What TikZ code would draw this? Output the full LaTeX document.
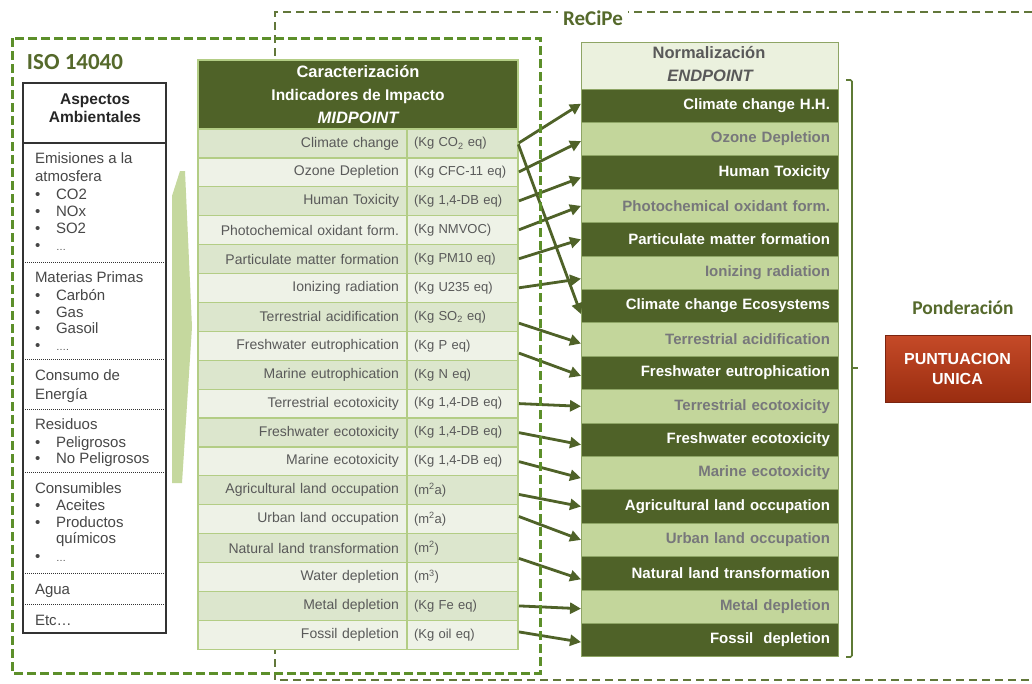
\documentclass[tikz,border=0pt]{standalone}
\usepackage{fontspec}
\setmainfont{Liberation Sans}
\newfontfamily\calib{Carlito}
\usetikzlibrary{arrows.meta}
\definecolor{cOlive}{HTML}{4F6228}
\definecolor{cMidA}{HTML}{DCE6CD}
\definecolor{cMidB}{HTML}{EEF2E7}
\definecolor{cMidLine}{HTML}{B3CD85}
\definecolor{cMidTxt}{HTML}{595959}
\definecolor{cEndLight}{HTML}{C3D69B}
\definecolor{cEndHead}{HTML}{EBF1DE}
\definecolor{cEndLine}{HTML}{8EA565}
\definecolor{cEndTxt}{HTML}{77777B}
\definecolor{cIso}{HTML}{5C8F2A}
\definecolor{cRecipe}{HTML}{62773A}
\definecolor{cTitle}{HTML}{55692B}
\definecolor{cLeftTxt}{HTML}{474747}
\definecolor{cBigArrow}{HTML}{C5D89E}
\definecolor{cBracket}{HTML}{5E7A35}
\definecolor{cRedTop}{HTML}{C54A28}
\definecolor{cRedBot}{HTML}{9A2D10}
\definecolor{cRedLine}{HTML}{7A2410}

\newcommand\mrow[3]{%
  \pgfmathsetmacro\ty{129+(#1-1)*28.9}%
  \pgfmathtruncatemacro\isodd{mod(#1,2)}%
  \ifnum\isodd=1 \def\rf{cMidA}\else\def\rf{cMidB}\fi
  \node[midname, fill=\rf, anchor=north west] (m#1) at (198,\ty) {#2};
  \node[midunit, fill=\rf, anchor=north west] (u#1) at (407,\ty) {#3};
}
\newcommand\erow[3]{%
  \pgfmathsetmacro\ty{89+(#1-1)*33.4}%
  \node[#3, anchor=north west] (e#1) at (581,\ty) {#2};
}
\newcommand\ltx[3]{\node[lefttxt, anchor=base west] (#1) at (35,#2+5) {#3};}
\newcommand\lbu[3]{\node[lefttxt, anchor=base west] (#1b) at (35,#2+5) {•};
  \node[lefttxt, anchor=base west] (#1) at (56,#2+5) {#3};}

\begin{document}
\begin{tikzpicture}[x=1pt,y=-1pt,
  every node/.style={inner sep=0pt, outer sep=0pt},
  midcell/.style={draw=cMidLine, line width=1.2pt, minimum height=28.9pt, text=cMidTxt},
  midname/.style={midcell, text width=193pt, align=right, inner xsep=8pt, font=\fontsize{14}{16}\selectfont},
  midunit/.style={midcell, text width=97pt, align=left, inner xsep=7pt, font=\fontsize{13}{15}\selectfont},
  endcell/.style={draw=cEndLine, line width=0.8pt, minimum height=33.4pt, text width=241pt, align=right, inner xsep=8pt, font=\bfseries\fontsize{15}{17}\selectfont},
  enddark/.style={endcell, fill=cOlive, text=white},
  endlight/.style={endcell, fill=cEndLight, text=cEndTxt},
  lefttxt/.style={text=cLeftTxt, font=\fontsize{15}{17}\selectfont},
  arr/.style={draw=cOlive, line width=2.8pt, -{Triangle[length=11pt,width=11pt]}, shorten <=1pt},
  isobox/.style={draw=cIso, line width=3pt, dash pattern=on 9pt off 4pt},
  recbox/.style={draw=cRecipe, line width=2.6pt, dash pattern=on 8pt off 5pt},
  sep/.style={draw=black!80, line width=1pt, dash pattern=on 1pt off 1pt}
]
\useasboundingbox (0,0) rectangle (1032,683);
\fill[white] (0,0) rectangle (1032,683);

% ReCiPe dashed frame
\draw[recbox] (1045,12) -- (275,12) -- (275,680) -- (1045,680);
\node[fill=white, inner xsep=5pt, inner ysep=2pt, text=cTitle, font=\calib\bfseries\fontsize{21}{23}\selectfont] (recipe) at (593,18) {ReCiPe};

% Left table
\node[draw=black!80, line width=1.2pt, minimum width=143pt, minimum height=550pt, anchor=north west] (asp) at (23,83) {};
\draw[draw=black!80, line width=1.2pt] (23,143) -- (166,143);
\node[align=center, text=black!85, font=\bfseries\fontsize{15.5}{18}\selectfont] (asph) at (95,108) {Aspectos\\Ambientales};
\foreach \yy in {262,359,409,472,573,604} \draw[sep] (23,\yy) -- (166,\yy);
\ltx{l1}{158}{Emisiones a la}
\ltx{l2}{176}{atmosfera}
\lbu{l3}{194}{CO2}
\lbu{l4}{211}{NOx}
\lbu{l5}{228}{SO2}
\lbu{l6}{245}{{\fontsize{10}{12}\selectfont …}}
\ltx{l7}{277}{Materias Primas}
\lbu{l8}{295}{Carbón}
\lbu{l9}{312}{Gas}
\lbu{l10}{328}{Gasoil}
\lbu{l11}{345}{{\fontsize{10}{12}\selectfont ….}}
\ltx{l12}{375}{Consumo de}
\ltx{l13}{394}{Energía}
\ltx{l14}{424}{Residuos}
\lbu{l15}{442}{Peligrosos}
\lbu{l16}{458}{No Peligrosos}
\ltx{l17}{488}{Consumibles}
\lbu{l18}{505}{Aceites}
\lbu{l19}{522}{Productos}
\ltx{l20x}{538}{\hspace*{21pt}químicos}
\lbu{l21}{556}{{\fontsize{10}{12}\selectfont …}}
\ltx{l22}{589}{Agua}
\ltx{l23}{620}{Etc…}

% big light arrow
\fill[cBigArrow] (180,171) -- (185,171) -- (192,327) -- (182,483) -- (172,483) -- (172,196) -- cycle;

% Midpoint table
\node[draw=cMidLine, line width=1.2pt, fill=cOlive, minimum width=320pt, minimum height=69pt, anchor=north west] (mh) at (198,60) {};
\node[text=white, font=\bfseries\fontsize{16.5}{18}\selectfont] (mh1) at (358,72) {Caracterización};
\node[text=white, font=\bfseries\fontsize{15.5}{18}\selectfont] (mh2) at (358,96) {Indicadores de Impacto};
\node[text=white, font=\bfseries\itshape\fontsize{16.5}{18}\selectfont] (mh3) at (358,118) {MIDPOINT};
\mrow{1}{Climate change}{(Kg CO\textsubscript{2} eq)}
\mrow{2}{Ozone Depletion}{(Kg CFC-11 eq)}
\mrow{3}{Human Toxicity}{(Kg 1,4-DB eq)}
\mrow{4}{Photochemical oxidant form.}{(Kg NMVOC)}
\mrow{5}{Particulate matter formation}{(Kg PM10 eq)}
\mrow{6}{Ionizing radiation}{(Kg U235 eq)}
\mrow{7}{Terrestrial acidification}{(Kg SO\textsubscript{2} eq)}
\mrow{8}{Freshwater eutrophication}{(Kg P eq)}
\mrow{9}{Marine eutrophication}{(Kg N eq)}
\mrow{10}{Terrestrial ecotoxicity}{(Kg 1,4-DB eq)}
\mrow{11}{Freshwater ecotoxicity}{(Kg 1,4-DB eq)}
\mrow{12}{Marine ecotoxicity}{(Kg 1,4-DB eq)}
\mrow{13}{Agricultural land occupation}{(m\textsuperscript{2}a)}
\mrow{14}{Urban land occupation}{(m\textsuperscript{2}a)}
\mrow{15}{Natural land transformation}{(m\textsuperscript{2})}
\mrow{16}{Water depletion}{(m\textsuperscript{3})}
\mrow{17}{Metal depletion}{(Kg Fe eq)}
\mrow{18}{Fossil depletion}{(Kg oil eq)}

% Endpoint table
\node[draw=cEndLine, line width=1pt, fill=cEndHead, minimum width=257pt, minimum height=47pt, anchor=north west] (eh) at (581,42) {};
\node[text=cMidTxt, font=\bfseries\fontsize{16.5}{18}\selectfont] (eh1) at (709,53) {Normalización};
\node[text=cMidTxt, font=\bfseries\itshape\fontsize{16.5}{18}\selectfont] (eh2) at (710,76) {ENDPOINT};
\erow{1}{Climate change H.H.}{enddark}
\erow{2}{Ozone Depletion}{endlight}
\erow{3}{Human Toxicity}{enddark}
\erow{4}{Photochemical oxidant form.}{endlight}
\erow{5}{Particulate matter formation}{enddark}
\erow{6}{Ionizing radiation}{endlight}
\erow{7}{Climate change Ecosystems}{enddark}
\erow{8}{Terrestrial acidification}{endlight}
\erow{9}{Freshwater eutrophication}{enddark}
\erow{10}{Terrestrial ecotoxicity}{endlight}
\erow{11}{Freshwater ecotoxicity}{enddark}
\erow{12}{Marine ecotoxicity}{endlight}
\erow{13}{Agricultural land occupation}{enddark}
\erow{14}{Urban land occupation}{endlight}
\erow{15}{Natural land transformation}{enddark}
\erow{16}{Metal depletion}{endlight}
\erow{17}{Fossil\ \ depletion}{enddark}

% connectors
\draw[arr] (u1.east) -- ([yshift=2pt]e1.west);
\draw[arr] (u1.east) -- ([yshift=-8pt]e7.west);
\draw[arr] (u2.east) -- ([yshift=-2pt]e2.west);
\draw[arr] (u3.east) -- ([yshift=-5pt]e3.west);
\draw[arr] (u4.east) -- (e4.west);
\draw[arr] (u5.east) -- (e5.west);
\draw[arr] (u6.east) -- ([yshift=-6pt]e6.west);
\draw[arr] ([yshift=-6pt]u7.east) -- ([yshift=-4pt]e8.west);
\draw[arr] ([yshift=-7pt]u8.east) -- ([yshift=-3pt]e9.west);
\draw[arr] (u10.east) -- (e10.west);
\draw[arr] (u11.east) -- ([yshift=-5pt]e11.west);
\draw[arr] (u12.east) -- ([yshift=-5pt]e12.west);
\draw[arr] ([yshift=-4pt]u13.east) -- (e13.west);
\draw[arr] ([yshift=3pt]u14.east) -- (e14.west);
\draw[arr] ([yshift=-10pt]u15.east) -- ([yshift=-6pt]e15.west);
\draw[arr] (u17.east) -- ([yshift=-2pt]e16.west);
\draw[arr] ([yshift=3pt]u18.east) -- ([yshift=-2pt]e17.west);

% ISO dashed frame
\draw[isobox] (12,38) rectangle (540,673);
\node[text=cTitle, font=\calib\bfseries\fontsize{23}{25}\selectfont, anchor=west] (iso) at (27,62) {ISO 14040};

% bracket
\draw[cBracket, line width=1.6pt, rounded corners=1.5pt] (846,80) -- (852,80) -- (852,657) -- (846,657);
\draw[cBracket, line width=1.6pt] (852,368) -- (858,368);

% Ponderacion
\node[text=cTitle, font=\calib\bfseries\fontsize{19.5}{22}\selectfont] (pond) at (963,308) {Ponderación};
\node[draw=cRedLine, line width=1pt, top color=cRedTop, bottom color=cRedBot, minimum width=145pt, minimum height=67pt, align=center, text=white, font=\bfseries\fontsize{16}{20}\selectfont] (pu) at (957.5,368.5) {PUNTUACION\\UNICA};
\end{tikzpicture}
\end{document}
